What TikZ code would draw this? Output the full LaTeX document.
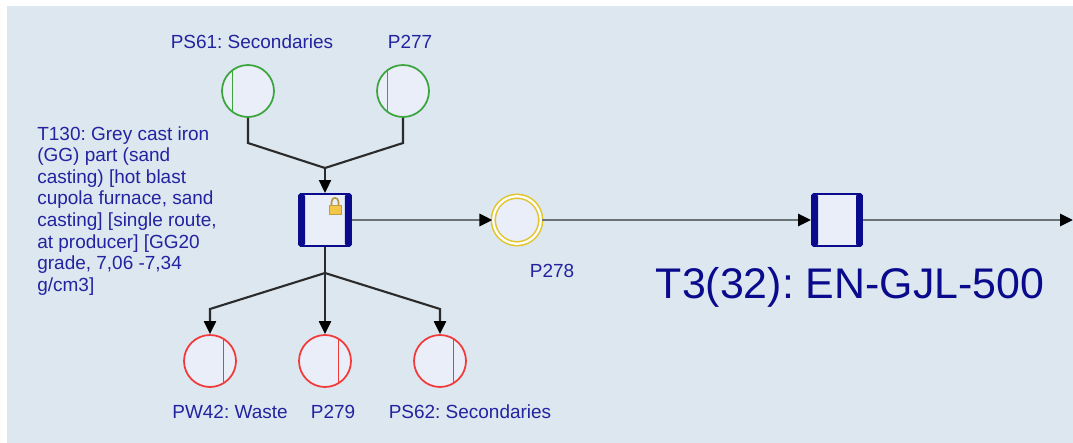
\documentclass[tikz,border=0pt]{standalone}
\usepackage{fontspec}
\setmainfont{Liberation Sans}
\usepackage{tikz}
\usetikzlibrary{arrows.meta,positioning,calc}
\frenchspacing
\definecolor{flowbg}{HTML}{DCE7F0}
\definecolor{flowfill}{HTML}{E9EEF8}
\definecolor{flowgreen}{HTML}{3DA53D}
\definecolor{flowred}{HTML}{F23A3A}
\definecolor{flowyellow}{HTML}{E3C52E}
\definecolor{flownavy}{HTML}{0A0A8C}
\definecolor{flowtext}{HTML}{2323A0}
\definecolor{flowline}{HTML}{2B2B2B}
\definecolor{flowgrey}{HTML}{6C7377}
\definecolor{lockgold}{HTML}{F2C64A}
\tikzset{
  inflow/.style={circle, draw=flowgreen, line width=1pt, fill=flowfill, minimum size=1.04cm, inner sep=0pt,
    path picture={\draw[flowgreen, line width=1pt] ([xshift=-0.31cm]path picture bounding box.north) -- ([xshift=-0.31cm]path picture bounding box.south);}},
  outflow/.style={circle, draw=flowred, line width=1pt, fill=flowfill, minimum size=1.04cm, inner sep=0pt,
    path picture={\draw[flowred, line width=1pt] ([xshift=0.27cm]path picture bounding box.north) -- ([xshift=0.27cm]path picture bounding box.south);}},
  product/.style={circle, draw=flowyellow, line width=0.9pt, double=white, double distance=1.3pt, fill=flowfill, minimum size=0.95cm, inner sep=0pt},
  procbox/.style={rectangle, rounded corners=1pt, draw=flownavy, line width=1.1pt, fill=flowfill, minimum size=1.04cm, inner sep=0pt,
    path picture={
      \fill[flownavy] (path picture bounding box.south west) rectangle ([xshift=0.12cm]path picture bounding box.north west);
      \fill[flownavy] ([xshift=-0.12cm]path picture bounding box.south east) rectangle (path picture bounding box.north east);}},
  lbl/.style={font=\fontsize{10.8}{12.3}\selectfont, text=flowtext, inner sep=0pt},
  biglbl/.style={font=\fontsize{24.4}{28}\selectfont, text=flownavy, inner sep=0pt},
  link/.style={draw=flowline, line width=1.2pt},
  linkarr/.style={link, -{Triangle[length=2.6mm, width=2.4mm, color=black]}},
  mainlink/.style={draw=flowgrey, line width=1.7pt, -{Triangle[length=2.6mm, width=2.4mm, color=black]}}
}
\begin{document}
\begin{tikzpicture}[x=0.02cm, y=-0.02cm]
  \useasboundingbox (0,0) rectangle (1073,443);
  \fill[flowbg] (7,6) rectangle (1073,443);

  % inputs
  \node[inflow] (ps61) at (248,91) {};
  \node[inflow] (p277) at (403,91) {};
  \node[lbl] (ps61lbl) at (252,42) {PS61: Secondaries};
  \node[lbl] (p277lbl) at (410,42) {P277};

  % process
  \node[procbox] (t130) at (325,220) {};
  \node[lbl, anchor=north west, align=left] (t130lbl) at (37,126)
    {T130: Grey cast iron\\(GG) part (sand\\casting) [hot blast\\cupola furnace, sand\\casting] [single route,\\at producer] [GG20\\grade, 7,06 -7,34\\g/cm3]};
  % lock
  \draw[lockgold!75!black, line width=0.9pt] (331.5,206) -- (331.5,202) .. controls (331.5,196.5) and (338.5,196.5) .. (338.5,202) -- (338.5,206);
  \fill[lockgold, draw=lockgold!80!black, line width=0.3pt] (329,205) rectangle (341,214);

  % outputs
  \node[outflow] (pw42) at (210,361) {};
  \node[outflow] (p279) at (325,361) {};
  \node[outflow] (ps62) at (440,361) {};
  \node[lbl] (pw42lbl) at (230,412) {PW42: Waste};
  \node[lbl] (p279lbl) at (333,412) {P279};
  \node[lbl] (ps62lbl) at (470,412) {PS62: Secondaries};

  % product and next process
  \node[product] (p278) at (517,220) {};
  \node[lbl] (p278lbl) at (552,271) {P278};
  \node[procbox, minimum width=1.0cm] (t3) at (837,220) {};
  \node[biglbl] (t3lbl) at (850,287) {T3(32): EN-GJL-500};
  \coordinate (exit) at (1073,220);

  % connectors
  \coordinate (jin) at (325,168);
  \coordinate (jout) at (325,273);
  \draw[link] (ps61.south) -- (ps61.south |- 0,143) -- (jin);
  \draw[link] (p277.south) -- (p277.south |- 0,143) -- (jin);
  \draw[linkarr] (jin) -- (t130.north);
  \draw[link] (t130.south) -- (jout);
  \draw[linkarr] (jout) -- (pw42.north |- 0,309) -- (pw42.north);
  \draw[linkarr] (jout) -- (p279.north);
  \draw[linkarr] (jout) -- (ps62.north |- 0,309) -- (ps62.north);
  \draw[mainlink] (t130.east) -- (p278.west);
  \draw[mainlink] (p278.east) -- (t3.west);
  \draw[mainlink] (t3.east) -- (exit);
\end{tikzpicture}
\end{document}
